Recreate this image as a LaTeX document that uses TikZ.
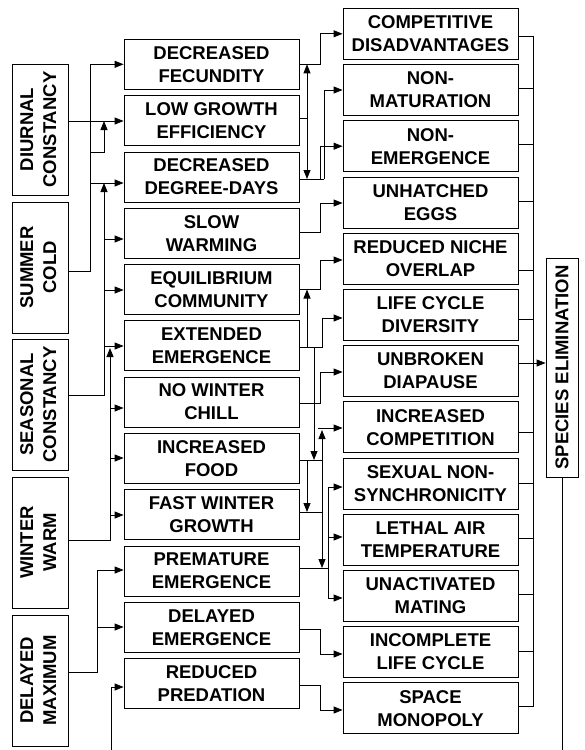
\documentclass[tikz,border=0pt]{standalone}
\usepackage{fontspec}
\setmainfont{Liberation Sans}
\usetikzlibrary{arrows.meta}
\begin{document}
\begin{tikzpicture}[x=1pt,y=-1pt,line width=0.8pt,
  box/.style={draw,line width=0.8pt,align=center,inner sep=0pt,
    font=\bfseries\fontsize{18.5}{23}\selectfont},
  lbox/.style={box,minimum width=56pt,minimum height=131pt},
  mbox/.style={box,minimum width=175pt,minimum height=50pt},
  rbox/.style={box,minimum width=175pt,minimum height=51pt},
  sebox/.style={box,minimum width=32pt,minimum height=219pt},
  arr/.style={-{Triangle[length=9pt,width=7pt]}}]
\useasboundingbox (0,0) rectangle (585,750);
\newcommand{\vtext}[2]{\rotatebox{90}{\begin{tabular}{@{}c@{}}#1\\#2\end{tabular}}}
% left column
\node[lbox] (L1) at (40,129.5) {\vtext{DIURNAL}{CONSTANCY}};
\node[lbox] (L2) at (40,267.5) {\vtext{SUMMER}{COLD}};
\node[lbox] (L3) at (40,404.5) {\vtext{SEASONAL}{CONSTANCY}};
\node[lbox] (L4) at (40,542.5) {\vtext{WINTER}{WARM}};
\node[lbox] (L5) at (40,680.5) {\vtext{DELAYED}{MAXIMUM}};
% middle column
\node[mbox] (M0) at (211.5,64.3) {DECREASED\\FECUNDITY};
\node[mbox] (M1) at (211.5,120.6) {LOW GROWTH\\EFFICIENCY};
\node[mbox] (M2) at (211.5,176.9) {DECREASED\\DEGREE-DAYS};
\node[mbox] (M3) at (211.5,233.2) {SLOW\\WARMING};
\node[mbox] (M4) at (211.5,289.5) {EQUILIBRIUM\\COMMUNITY};
\node[mbox] (M5) at (211.5,345.8) {EXTENDED\\EMERGENCE};
\node[mbox] (M6) at (211.5,402.1) {NO WINTER\\CHILL};
\node[mbox] (M7) at (211.5,458.4) {INCREASED\\FOOD};
\node[mbox] (M8) at (211.5,514.7) {FAST WINTER\\GROWTH};
\node[mbox] (M9) at (211.5,571.0) {PREMATURE\\EMERGENCE};
\node[mbox] (M10) at (211.5,627.3) {DELAYED\\EMERGENCE};
\node[mbox] (M11) at (211.5,683.6) {REDUCED\\PREDATION};
% right column
\node[rbox] (R0) at (430.5,33.8) {COMPETITIVE\\DISADVANTAGES};
\node[rbox] (R1) at (430.5,90.0) {NON-\\MATURATION};
\node[rbox] (R2) at (430.5,146.2) {NON-\\EMERGENCE};
\node[rbox] (R3) at (430.5,202.4) {UNHATCHED\\EGGS};
\node[rbox] (R4) at (430.5,258.6) {REDUCED NICHE\\OVERLAP};
\node[rbox] (R5) at (430.5,314.8) {LIFE CYCLE\\DIVERSITY};
\node[rbox] (R6) at (430.5,371.0) {UNBROKEN\\DIAPAUSE};
\node[rbox] (R7) at (430.5,427.2) {INCREASED\\COMPETITION};
\node[rbox] (R8) at (430.5,483.4) {SEXUAL NON-\\SYNCHRONICITY};
\node[rbox] (R9) at (430.5,539.6) {LETHAL AIR\\TEMPERATURE};
\node[rbox] (R10) at (430.5,595.8) {UNACTIVATED\\MATING};
\node[rbox] (R11) at (430.5,652.0) {INCOMPLETE\\LIFE CYCLE};
\node[rbox] (R12) at (430.5,708.2) {SPACE\\MONOPOLY};
% species elimination
\node[sebox] (SE) at (562,367.5) {\rotatebox{90}{SPECIES ELIMINATION}};
\coordinate (top) at (111,750);
\coordinate (bot) at (562,750);
% ---- left connectors
\draw[arr] (L1.east |- 0,121) -- (M1.west |- 0,121);
\draw[arr] (L2.east |- 0,271) -- (90,271) -- (90,64.3) -- (M0.west);
\draw[arr] (90,183) -- (M2.west |- 0,183);
\draw[arr] (90,152) -- (104,152) -- (104,121);
\draw[arr] (L3.east |- 0,395) -- (104,395) -- (104,183);
\draw[arr] (104,239) -- (M3.west |- 0,239);
\draw[arr] (104,290) -- (M4.west |- 0,290);
\draw[arr] (104,346) -- (M5.west |- 0,346);
\draw[arr] (L4.east |- 0,540) -- (110,540) -- (110,348);
\draw[arr] (110,408) -- (M6.west |- 0,408);
\draw[arr] (110,458) -- (M7.west |- 0,458);
\draw[arr] (110,515) -- (M8.west |- 0,515);
\draw[arr] (L5.east |- 0,672) -- (97,672) -- (97,570) -- (M9.west |- 0,570);
\draw[arr] (97,627) -- (M10.west |- 0,627);
\draw[arr] (top) -- (111,687) -- (M11.west |- 0,687);
% ---- middle to right connectors
\draw[arr] (M0.east) -- (320,64.3) -- (320,33.8) -- (R0.west);
\draw (M1.east |- 0,118) -- (307,118);
\draw[arr] (307,118) -- (307,64.3);
\draw[arr] (307,118) -- (307,179);
\draw (M2.east |- 0,179) -- (324,179);
\draw[arr] (320,179) -- (320,146.2) -- (R2.west);
\draw[arr] (324,179) -- (324,90) -- (R1.west);
\draw[arr] (M3.east |- 0,232) -- (320,232) -- (320,203) -- (R3.west |- 0,203);
\draw[arr] (M4.east) -- (320,289.5) -- (320,260) -- (R4.west |- 0,260);
\draw[arr] (M5.east |- 0,347) -- (322,347) -- (322,318) -- (R5.west |- 0,318);
\draw[arr] (307,347) -- (307,289.5);
\draw[arr] (314,347) -- (314,460);
\draw[arr] (M6.east |- 0,403) -- (320,403) -- (320,372) -- (R6.west |- 0,372);
\draw (M7.east |- 0,460) -- (322,460);
\draw[arr] (307,460) -- (307,512);
\draw (M8.east |- 0,512) -- (322,512);
\draw[arr] (322,512) -- (322,430);
\draw[arr] (318,428) -- (R7.west |- 0,428);
\draw[arr] (322,512) -- (322,568);
\draw (M9.east |- 0,568) -- (328,568);
\draw[arr] (328,568) -- (328,487) -- (R8.west |- 0,487);
\draw[arr] (328,537) -- (R9.west |- 0,537);
\draw[arr] (328,568) -- (328,598) -- (R10.west |- 0,598);
\draw[arr] (M10.east |- 0,629) -- (320,629) -- (320,654) -- (R11.west |- 0,654);
\draw[arr] (M11.east |- 0,685) -- (320,685) -- (320,710) -- (R12.west |- 0,710);
% ---- right bus
\draw (R0.east |- 0,36) -- (533,36) -- (533,706) -- (R12.east |- 0,706);
\draw (R1.east |- 0,88) -- (533,88);
\draw (R2.east |- 0,144) -- (533,144);
\draw (R3.east |- 0,201) -- (533,201);
\draw (R4.east |- 0,270) -- (533,270);
\draw (R5.east |- 0,319) -- (533,319);
\draw[arr] (R6.east |- 0,363) -- (SE.west |- 0,363);
\draw (R7.east |- 0,432) -- (533,432);
\draw (R8.east |- 0,483) -- (533,483);
\draw (R9.east |- 0,538) -- (533,538);
\draw (R10.east |- 0,594) -- (533,594);
\draw (R11.east |- 0,651) -- (533,651);
\draw (SE.south) -- (bot);
\end{tikzpicture}
\end{document}
